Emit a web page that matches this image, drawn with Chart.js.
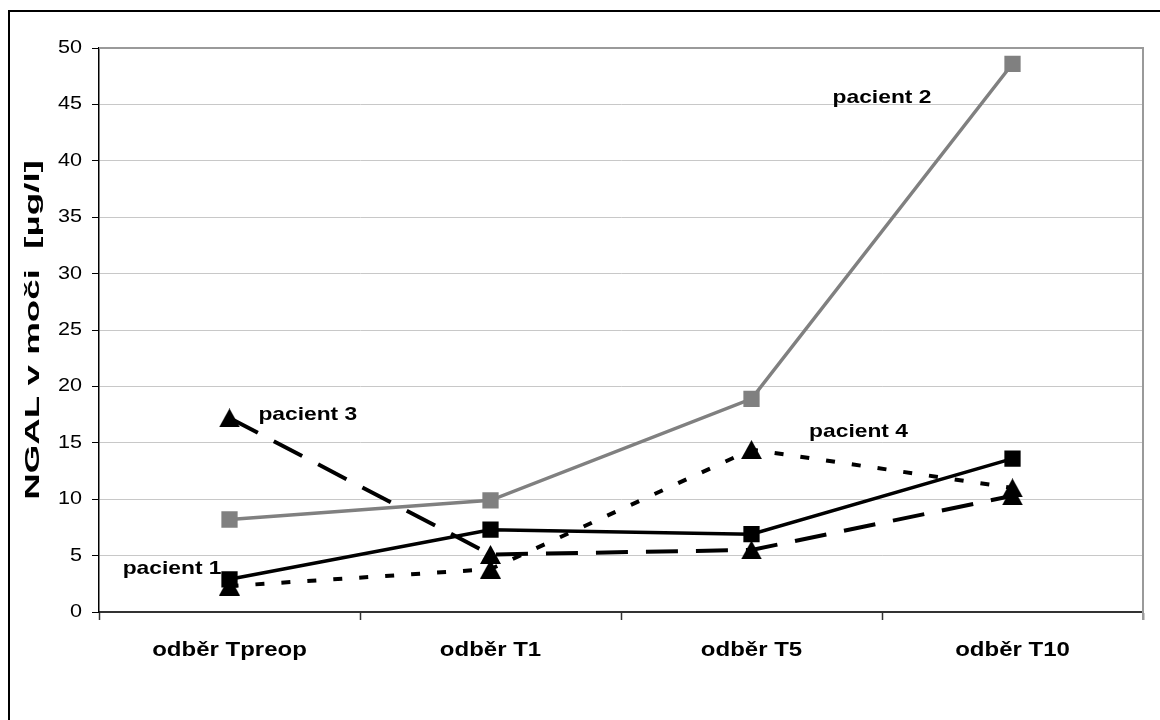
<!DOCTYPE html>
<html>
<head>
<meta charset="utf-8">
<script src="https://cdn.jsdelivr.net/npm/chart.js@4"></script>
<style>
  html, body { margin: 0; padding: 0; background: #fff; }
  #wrap { width: 1160px; height: 720px; }
</style>
</head>
<body>
<div id="wrap"><canvas id="ngalChart"></canvas></div>
<script>
const categories = ['odběr Tpreop', 'odběr T1', 'odběr T5', 'odběr T10'];
const pacient1 = [2.9, 7.3, 6.9, 13.6];
const pacient2 = [8.2, 9.9, 18.9, 48.6];
const pacient3 = [17.2, 5.1, 5.5, 10.3];
const pacient4 = [2.3, 3.8, 14.4, 11.0];

const seriesNames = ['pacient 1', 'pacient 2', 'pacient 3', 'pacient 4'];
// where each name sits, in axis units: [category index, µg/l]
const nameSpots = [[-0.22, 3.8], [2.5, 45.6], [0.3, 17.5], [2.41, 16.0]];

Chart.defaults.font.family = '"Liberation Sans", Arial, sans-serif';

const canvas = document.getElementById('ngalChart');
const ctx = canvas.getContext('2d');

// the lettering is drawn wider than the font itself;
// the rotated axis title is drawn long along its own line
const plainFill = ctx.fillText.bind(ctx);
ctx.fillText = function (text, x, y) {
    const t = this.getTransform();
    this.save();
    this.translate(x, y);
    if (Math.abs(t.b) > 0.5) this.scale(1.75, 1);
    else this.scale(1.2, 1);
    plainFill(text, 0, 0);
    this.restore();
};

function triangleMarker(w, h) {
    const c = document.createElement('canvas');
    c.width = w;
    c.height = h;
    const g = c.getContext('2d');
    g.fillStyle = '#000';
    g.beginPath();
    g.moveTo(w / 2, 0);
    g.lineTo(w, h);
    g.lineTo(0, h);
    g.closePath();
    g.fill();
    return c;
}
const triangle = triangleMarker(21, 19);

const frame = {
    id: 'frame',
    beforeDatasetsDraw(chart) {
        const {ctx, chartArea: a} = chart;
        ctx.save();
        ctx.strokeStyle = '#9a9a9a';
        ctx.lineWidth = 2;
        ctx.beginPath();
        ctx.moveTo(a.left, a.top);
        ctx.lineTo(a.right, a.top);
        ctx.lineTo(a.right, a.bottom + 8);
        ctx.stroke();
        ctx.restore();
    },
    afterDraw(chart) {
        const ctx = chart.ctx;
        ctx.save();
        ctx.strokeStyle = '#000';
        ctx.lineWidth = 2;
        ctx.strokeRect(9, 11, chart.width + 20, chart.height + 20);
        ctx.restore();
    }
};

const names = {
    id: 'names',
    afterDatasetsDraw(chart) {
        const {ctx, scales: {x, y}} = chart;
        ctx.save();
        ctx.font = 'bold 19px "Liberation Sans", Arial, sans-serif';
        ctx.fillStyle = '#000';
        ctx.textAlign = 'center';
        ctx.textBaseline = 'middle';
        seriesNames.forEach((name, i) => {
            ctx.fillText(name, x.getPixelForValue(nameSpots[i][0]), y.getPixelForValue(nameSpots[i][1]));
        });
        ctx.restore();
    }
};

new Chart(ctx, {
    type: 'line',
    data: {
        labels: categories,
        datasets: [
            {
                label: seriesNames[0],
                data: pacient1,
                borderColor: '#000',
                backgroundColor: '#000',
                borderWidth: 3.5,
                pointStyle: 'rect',
                pointRadius: 11.5,
                pointBorderWidth: 0
            },
            {
                label: seriesNames[1],
                data: pacient2,
                borderColor: '#808080',
                backgroundColor: '#808080',
                borderWidth: 3.5,
                pointStyle: 'rect',
                pointRadius: 11.5,
                pointBorderWidth: 0
            },
            {
                label: seriesNames[2],
                data: pacient3,
                borderColor: '#000',
                backgroundColor: '#000',
                borderWidth: 4,
                borderDash: [32, 18],
                pointStyle: triangle,
                pointBorderWidth: 0
            },
            {
                label: seriesNames[3],
                data: pacient4,
                borderColor: '#000',
                backgroundColor: '#000',
                borderWidth: 4,
                borderDash: [9, 17],
                pointStyle: triangle,
                pointBorderWidth: 0
            }
        ]
    },
    options: {
        responsive: true,
        maintainAspectRatio: false,
        animation: false,
        layout: {
            padding: {top: 48, right: 17, left: 0, bottom: 0}
        },
        plugins: {
            legend: {display: false},
            tooltip: {enabled: false}
        },
        scales: {
            x: {
                offset: true,
                grid: {
                    offset: true,
                    drawOnChartArea: false,
                    tickLength: 8,
                    tickColor: '#333',
                    tickWidth: 1.5
                },
                border: {color: '#333', width: 2},
                ticks: {
                    color: '#000',
                    padding: 18,
                    font: {size: 20, weight: 'bold'}
                },
                afterFit(scale) {
                    scale.height = 108;
                }
            },
            y: {
                min: 0,
                max: 50,
                ticks: {
                    stepSize: 5,
                    color: '#000',
                    padding: 10,
                    font: {size: 18}
                },
                grid: {
                    color: '#c8c8c8',
                    tickColor: '#000',
                    tickLength: 7
                },
                border: {color: '#000', width: 1.5},
                title: {
                    display: true,
                    text: 'NGAL v moči  [µg/l]',
                    color: '#000',
                    padding: {top: 21},
                    font: {size: 21, weight: 'bold'}
                },
                afterFit(scale) {
                    scale.width = 99;
                }
            }
        }
    },
    plugins: [frame, names]
});
</script>
</body>
</html>
